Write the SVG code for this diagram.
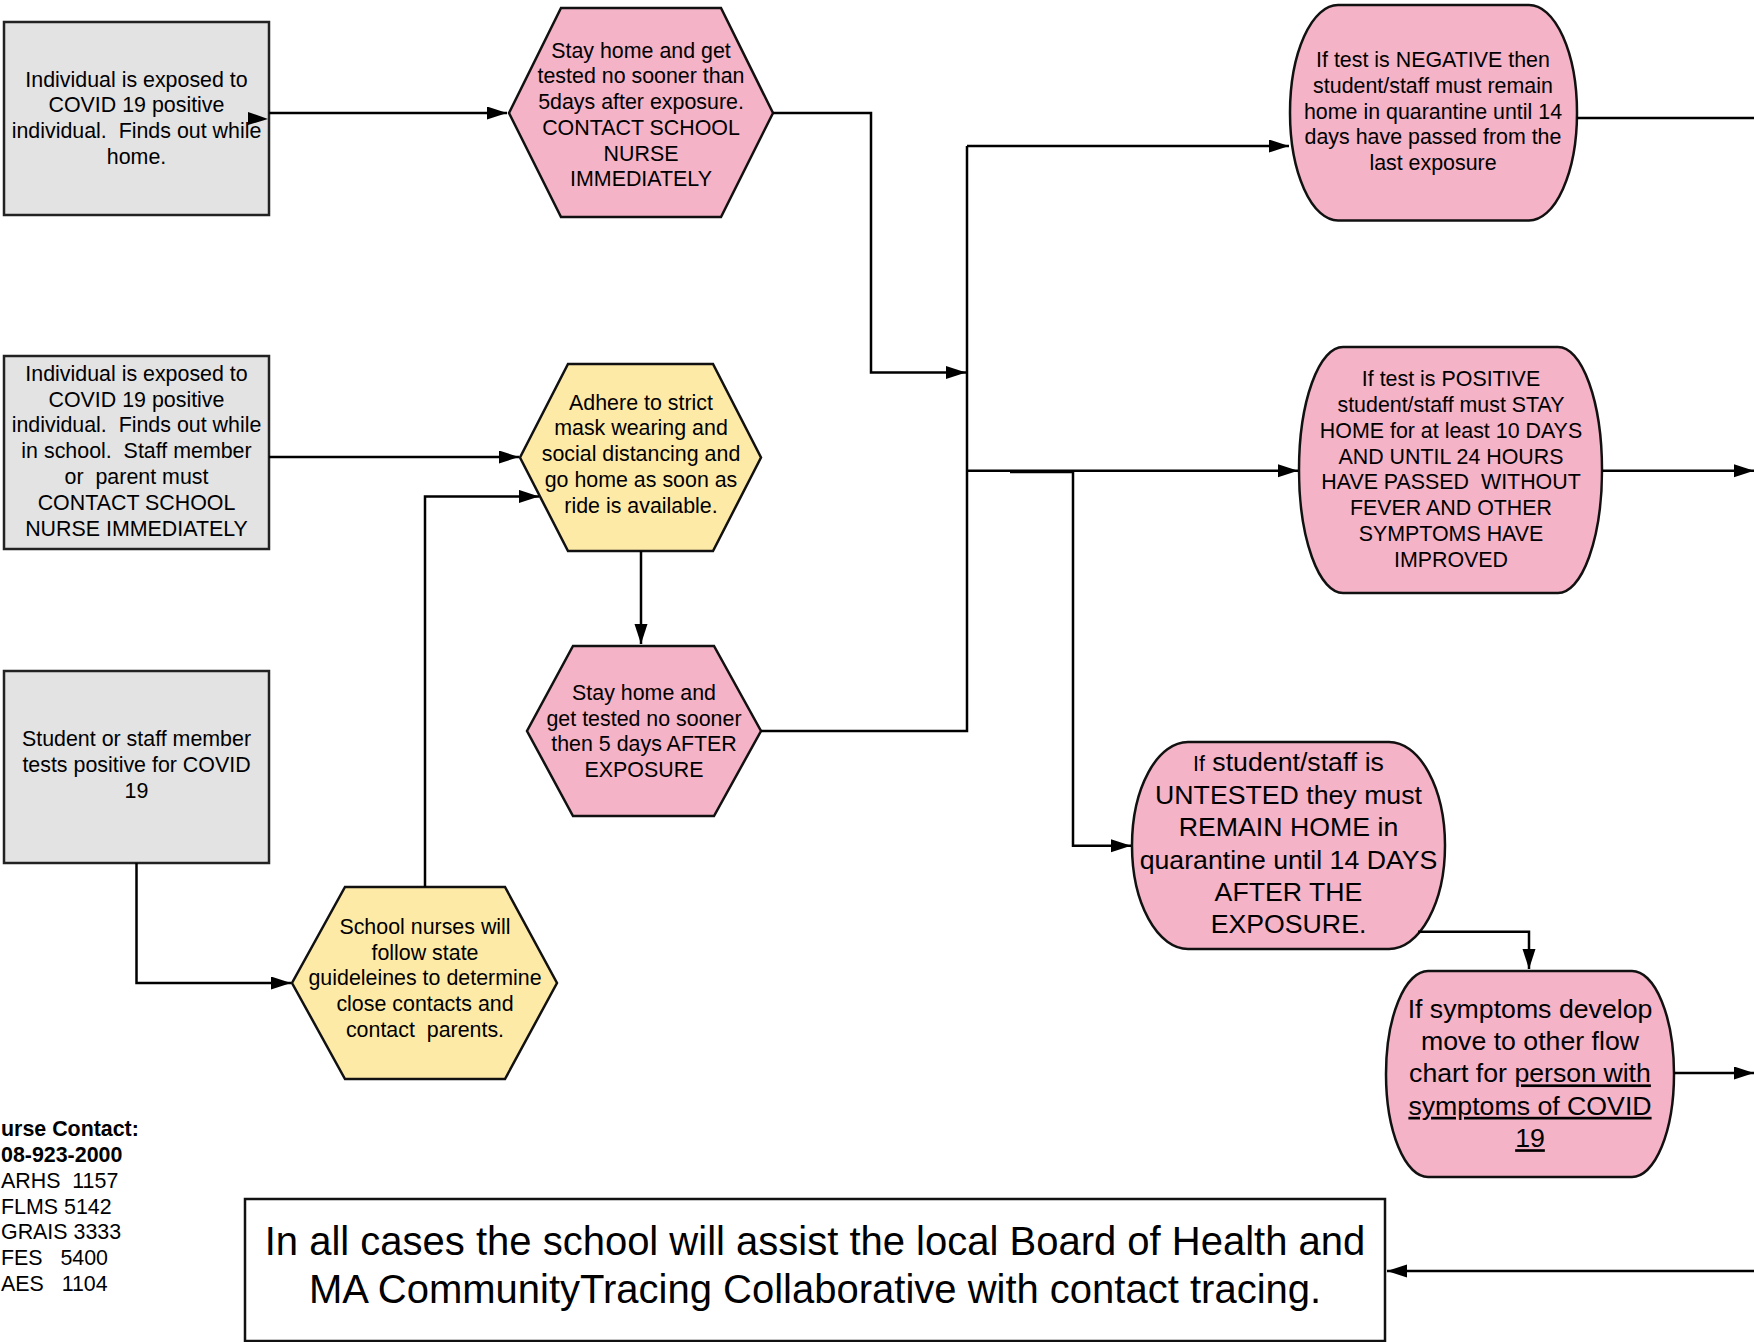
<svg xmlns="http://www.w3.org/2000/svg" width="1754" height="1342" viewBox="0 0 1754 1342">
<defs>
<marker id="ah" markerUnits="userSpaceOnUse" markerWidth="22" markerHeight="14" refX="20" refY="6.5" orient="auto">
<path d="M0,0 L20,6.5 L0,13 z" fill="#000"/>
</marker>
<style>
.gray{fill:#e3e3e3;stroke:#222;stroke-width:2.5}
.pink{fill:#f4b3c6;stroke:#111;stroke-width:2.5}
.yel{fill:#feeaa7;stroke:#111;stroke-width:2.5}
.t{font-family:"Liberation Sans",Arial,sans-serif;font-size:21.4px;fill:#000;text-anchor:middle;white-space:pre}
.tl{font-family:"Liberation Sans",Arial,sans-serif;font-size:26.7px;fill:#000;text-anchor:middle;white-space:pre}
.tb{font-family:"Liberation Sans",Arial,sans-serif;font-size:40px;fill:#000;text-anchor:middle;white-space:pre}
.nc{font-family:"Liberation Sans",Arial,sans-serif;font-size:21.4px;fill:#000;white-space:pre}
.c{fill:none;stroke:#000;stroke-width:2.5}
.u{text-decoration:underline}
</style>
</defs>
<rect width="1754" height="1342" fill="#fff"/>

<g id="box1">
<rect class="gray" x="4" y="22" width="265" height="193"/>
<text class="t" x="136.5" y="86.7">Individual is exposed to</text>
<text class="t" x="136.5" y="112.4">COVID 19 positive</text>
<text class="t" x="136.5" y="138.1">individual.  Finds out while</text>
<text class="t" x="136.5" y="163.8">home.</text>
</g>

<g id="hex1">
<polygon class="pink" points="561,8 721,8 773,113 721,217 561,217 509,113"/>
<text class="t" x="641" y="57.7">Stay home and get</text>
<text class="t" x="641" y="83.4">tested no sooner than</text>
<text class="t" x="641" y="109.1">5days after exposure.</text>
<text class="t" x="641" y="134.8">CONTACT SCHOOL</text>
<text class="t" x="641" y="160.5">NURSE</text>
<text class="t" x="641" y="186.2">IMMEDIATELY</text>
</g>

<g id="negative">
<rect class="pink" x="1290" y="5" width="287" height="215.5" rx="48" ry="107.7"/>
<text class="t" x="1433" y="67">If test is NEGATIVE then</text>
<text class="t" x="1433" y="92.8">student/staff must remain</text>
<text class="t" x="1433" y="118.6">home in quarantine until 14</text>
<text class="t" x="1433" y="144.4">days have passed from the</text>
<text class="t" x="1433" y="170.2">last exposure</text>
</g>

<g id="positive">
<rect class="pink" x="1299" y="347" width="303" height="246" rx="44" ry="123"/>
<text class="t" x="1451" y="386.1">If test is POSITIVE</text>
<text class="t" x="1451" y="411.9">student/staff must STAY</text>
<text class="t" x="1451" y="437.7">HOME for at least 10 DAYS</text>
<text class="t" x="1451" y="463.5">AND UNTIL 24 HOURS</text>
<text class="t" x="1451" y="489.3">HAVE PASSED  WITHOUT</text>
<text class="t" x="1451" y="515.1">FEVER AND OTHER</text>
<text class="t" x="1451" y="540.9">SYMPTOMS HAVE</text>
<text class="t" x="1451" y="566.7">IMPROVED</text>
</g>

<g id="box2">
<rect class="gray" x="4" y="356" width="265" height="193"/>
<text class="t" x="136.5" y="380.7">Individual is exposed to</text>
<text class="t" x="136.5" y="406.5">COVID 19 positive</text>
<text class="t" x="136.5" y="432.3">individual.  Finds out while</text>
<text class="t" x="136.5" y="458.1">in school.  Staff member</text>
<text class="t" x="136.5" y="483.9">or  parent must</text>
<text class="t" x="136.5" y="509.7">CONTACT SCHOOL</text>
<text class="t" x="136.5" y="535.5">NURSE IMMEDIATELY</text>
</g>

<g id="hex2">
<polygon class="yel" points="568,364 713,364 761,457.5 713,551 568,551 520,457.5"/>
<text class="t" x="641" y="409.5">Adhere to strict</text>
<text class="t" x="641" y="435.3">mask wearing and</text>
<text class="t" x="641" y="461.1">social distancing and</text>
<text class="t" x="641" y="486.9">go home as soon as</text>
<text class="t" x="641" y="512.7">ride is available.</text>
</g>

<g id="hex3">
<polygon class="pink" points="573,646 714,646 761,731 714,816 573,816 527,731"/>
<text class="t" x="644" y="699.7">Stay home and</text>
<text class="t" x="644" y="725.5">get tested no sooner</text>
<text class="t" x="644" y="751.3">then 5 days AFTER</text>
<text class="t" x="644" y="777.1">EXPOSURE</text>
</g>

<g id="box3">
<rect class="gray" x="4" y="671" width="265" height="192"/>
<text class="t" x="136.5" y="746.3">Student or staff member</text>
<text class="t" x="136.5" y="772">tests positive for COVID</text>
<text class="t" x="136.5" y="797.7">19</text>
</g>

<g id="hex4">
<polygon class="yel" points="345,887 505,887 557,983 505,1079 345,1079 292,983"/>
<text class="t" x="425" y="933.7">School nurses will</text>
<text class="t" x="425" y="959.5">follow state</text>
<text class="t" x="425" y="985.3">guideleines to determine</text>
<text class="t" x="425" y="1011.1">close contacts and</text>
<text class="t" x="425" y="1036.9">contact  parents.</text>
</g>

<g id="untested">
<rect class="pink" x="1132" y="742" width="313" height="207" rx="56" ry="103.5"/>
<text class="tl" x="1288.5" y="771.3"><tspan font-size="21.4px">If</tspan> student/staff is</text>
<text class="tl" x="1288.5" y="803.7">UNTESTED they must</text>
<text class="tl" x="1288.5" y="836.1">REMAIN HOME in</text>
<text class="tl" x="1288.5" y="868.5">quarantine until 14 DAYS</text>
<text class="tl" x="1288.5" y="900.9">AFTER THE</text>
<text class="tl" x="1288.5" y="933.3">EXPOSURE.</text>
</g>

<g id="symptoms">
<rect class="pink" x="1386" y="971" width="288" height="206" rx="42" ry="103"/>
<text class="tl" x="1530" y="1017.6">If symptoms develop</text>
<text class="tl" x="1530" y="1050">move to other flow</text>
<text class="tl" x="1530" y="1082.4">chart for <tspan class="u">person with</tspan></text>
<text class="tl u" x="1530" y="1114.8">symptoms of COVID</text>
<text class="tl u" x="1530" y="1147.2">19</text>
</g>

<g id="nurse-contact">
<text class="nc" x="1" y="1136.4" font-weight="bold">urse Contact:</text>
<text class="nc" x="1" y="1162.1" font-weight="bold">08-923-2000</text>
<text class="nc" x="1" y="1187.8">ARHS  1157</text>
<text class="nc" x="1" y="1213.5">FLMS 5142</text>
<text class="nc" x="1" y="1239.2">GRAIS 3333</text>
<text class="nc" x="1" y="1264.9">FES   5400</text>
<text class="nc" x="1" y="1290.6">AES   1104</text>
</g>

<g id="bottom-box">
<rect x="245" y="1199" width="1140" height="142" fill="#fff" stroke="#111" stroke-width="2.5"/>
<text class="tb" x="815" y="1254.9">In all cases the school will assist the local Board of Health and</text>
<text class="tb" x="815" y="1303">MA CommunityTracing Collaborative with contact tracing.</text>
</g>

<g id="connectors">
<path class="c" d="M269,113 H507" marker-end="url(#ah)"/>
<polygon points="248,112 268,119 248,125" fill="#000"/>
<path class="c" d="M773,113 H871 V372.5 H966" marker-end="url(#ah)"/>
<path class="c" d="M967,146 V731 H761"/>
<path class="c" d="M967,146 H1289" marker-end="url(#ah)"/>
<path class="c" d="M967,470.7 H1298" marker-end="url(#ah)"/>
<path class="c" d="M1010,472 H1073 V845.7 H1131" marker-end="url(#ah)"/>
<path class="c" d="M1577,118 H1754"/>
<path class="c" d="M1602,470.7 H1754" marker-end="url(#ah)"/>
<path class="c" d="M1418,931.7 H1529 V969" marker-end="url(#ah)"/>
<path class="c" d="M1674,1073 H1754" marker-end="url(#ah)"/>
<path class="c" d="M1754,1271 H1387" marker-end="url(#ah)"/>
<path class="c" d="M269,457 H519" marker-end="url(#ah)"/>
<path class="c" d="M136.5,863 V983 H291" marker-end="url(#ah)"/>
<path class="c" d="M425,887 V496.4 H539" marker-end="url(#ah)"/>
<path class="c" d="M641,551 V644" marker-end="url(#ah)"/>
</g>
</svg>
